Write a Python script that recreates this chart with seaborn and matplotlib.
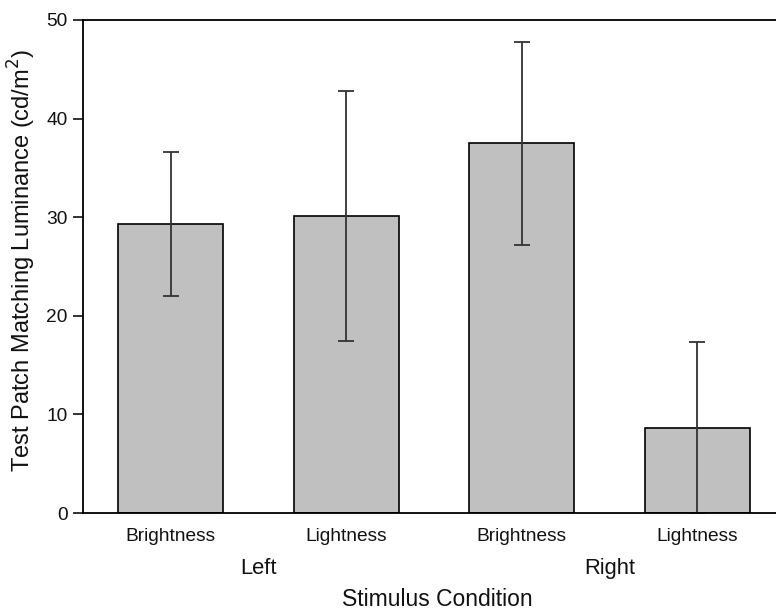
import matplotlib
matplotlib.use("Agg")
import matplotlib.pyplot as plt
import seaborn as sns
import pandas as pd

conditions = ["Left Brightness", "Left Lightness", "Right Brightness", "Right Lightness"]
tick_labels = ["Brightness", "Lightness", "Brightness", "Lightness"]
groups = ["Left", "Right"]
means = [29.3, 30.1, 37.5, 8.6]
errors = [7.3, 12.7, 10.3, 8.7]

sns.set_style("white")
plt.rcParams['font.family'] = ['Liberation Sans', 'DejaVu Sans']
plt.rcParams['text.color'] = '#111111'
plt.rcParams['axes.labelcolor'] = '#111111'
plt.rcParams['xtick.color'] = '#111111'
plt.rcParams['ytick.color'] = '#111111'

df = pd.DataFrame({"cond": conditions, "mean": means})

fig = plt.figure(figsize=(7.76, 6.12), dpi=100)
W, H = 776, 612
ax = fig.add_axes([83 / W, 1 - 513 / H, (785 - 83) / W, (513 - 20) / H])

sns.barplot(data=df, x="cond", y="mean", color="#c0c0c0", edgecolor="black",
            linewidth=1.2, width=0.6, saturation=1, errorbar=None, ax=ax)
ax.errorbar(range(len(means)), means, yerr=errors, fmt="none", ecolor="#333333",
            elinewidth=1.3, capsize=6, capthick=1.3)

ax.set_xlim(-0.5, 3.5)
ax.set_ylim(0, 50)
ax.set_yticks([0, 10, 20, 30, 40, 50])
ax.set_xticks(range(4))
ax.set_xticklabels(tick_labels, fontsize=13.8)
ax.tick_params(axis="y", direction="out", length=7, width=1.2, labelsize=13.8, left=True, pad=4)
ax.tick_params(axis="x", length=0, pad=11)

for s in ["left", "bottom", "top"]:
    ax.spines[s].set_linewidth(1.3)
    ax.spines[s].set_color("black")
ax.spines["right"].set_visible(False)

ax.set_xlabel("")
ax.set_ylabel("Test Patch Matching Luminance (cd/m$^2$)", fontsize=17)
ax.yaxis.set_label_coords(-(83 - 38) / 702, 0.513)

for i, g in enumerate(groups):
    ax.text(0.5 + 2 * i, -5.6, g, ha="center", va="center", fontsize=15.8,
            transform=ax.transData, clip_on=False)
fig.text(437 / W, 1 - 600 / H, "Stimulus Condition", ha="center", va="center", fontsize=16.5)

fig.savefig("out.png", dpi=100)
